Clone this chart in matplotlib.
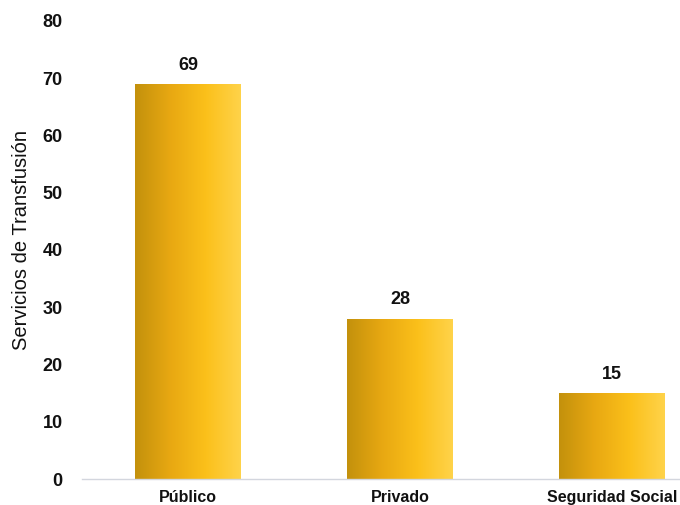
import numpy as np
import matplotlib.pyplot as plt
from matplotlib.colors import LinearSegmentedColormap

# Data
categorias = ['Público', 'Privado', 'Seguridad Social']
servicios = [69, 28, 15]
yticks = [0, 10, 20, 30, 40, 50, 60, 70, 80]

plt.rcParams['font.family'] = ['Liberation Sans', 'DejaVu Sans']

fig = plt.figure(figsize=(6.8, 5.05), dpi=100)
ax = fig.add_axes([82 / 680, 1 - 479 / 505, 636 / 680, 458 / 505])

x = np.arange(len(categorias))
bars = ax.bar(x, servicios, width=0.5, color='none', edgecolor='none')

# horizontal gold gradient inside each bar
grad = LinearSegmentedColormap.from_list(
    'oro', ['#C3910C', '#E8A812', '#FBC01A', '#FFD34A'])
g = np.linspace(0, 1, 256).reshape(1, -1)
for b in bars:
    x0, y0 = b.get_x(), b.get_y()
    w, h = b.get_width(), b.get_height()
    im = ax.imshow(g, cmap=grad, aspect='auto', extent=[x0, x0 + w, y0, y0 + h],
                   interpolation='bicubic', zorder=2)
    im.set_clip_path(b)
    ax.text(x0 + w / 2, h + 1.8, str(int(h)), ha='center', va='bottom',
            fontsize=13, fontweight='bold', color='#111111')

ax.set_xlim(-0.5, 2.5)
ax.set_ylim(0, 80)
ax.set_xticks(x)
ax.set_xticklabels(categorias, fontsize=11.5, fontweight='bold')
ax.set_yticks(yticks)
ax.set_yticklabels([str(v) for v in yticks], fontsize=13, fontweight='bold')
ax.tick_params(axis='both', length=0, colors='#111111')
ax.tick_params(axis='y', pad=14)
ax.tick_params(axis='x', pad=8)

for s in ['top', 'right', 'left']:
    ax.spines[s].set_visible(False)
ax.spines['bottom'].set_color('#D3D6DE')
ax.spines['bottom'].set_linewidth(1.0)

ax.set_ylabel('Servicios de Transfusión', fontsize=14.5, color='#111111')
ax.yaxis.set_label_coords(-0.080, 0.522)

fig.savefig('out.png', dpi=100)
